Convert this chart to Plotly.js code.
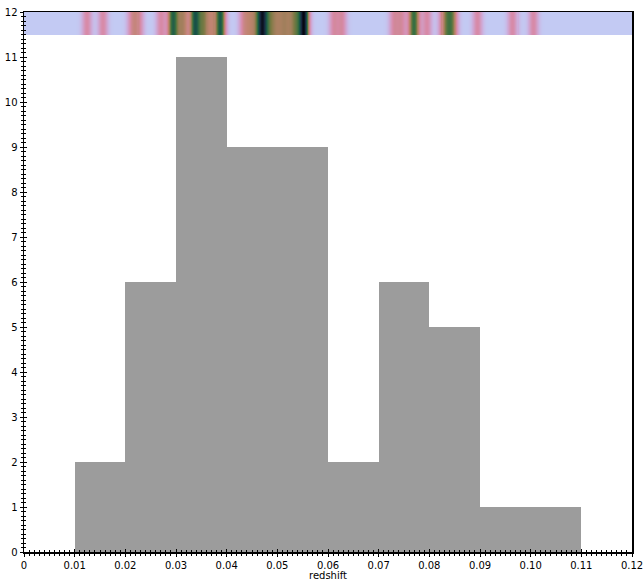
<!DOCTYPE html>
<html>
<head>
<meta charset="utf-8">
<script src="https://cdn.plot.ly/plotly-3.0.1.min.js"></script>
<style>html,body{margin:0;padding:0;background:#fff;}#chart{width:644px;height:581px;}</style>
</head>
<body>
<div id="chart"></div>
<script>
// individual redshift values (read from the strip, consistent with histogram counts)
const redshifts = [
  0.0124, 0.0156,
  0.0214, 0.0226, 0.0270, 0.0290, 0.0294, 0.0298,
  0.0310, 0.0318, 0.0335, 0.0338, 0.0341, 0.0352, 0.0358, 0.0370, 0.0384, 0.0387, 0.0390,
  0.0433, 0.0445, 0.0456, 0.0466, 0.0469, 0.0472, 0.0475, 0.0484, 0.0492,
  0.0502, 0.0512, 0.0521, 0.0532, 0.0538, 0.0549, 0.0551, 0.0553, 0.0555,
  0.0612, 0.0628,
  0.0730, 0.0745, 0.0765, 0.0770, 0.0775, 0.0796,
  0.0828, 0.0835, 0.0842, 0.0848, 0.0895,
  0.0965,
  0.1005
];
const xTickVals = [0, 0.01, 0.02, 0.03, 0.04, 0.05, 0.06, 0.07, 0.08, 0.09, 0.10, 0.11, 0.12];
const xTickText = ['0', '0.01', '0.02', '0.03', '0.04', '0.05', '0.06', '0.07', '0.08', '0.09', '0.10', '0.11', '0.12'];
const yTickVals = [0,1,2,3,4,5,6,7,8,9,10,11,12];
const xTitle = 'redshift';

// density strip built from the data values
const step = 0.0002, sigma = 0.0007;
const edges = [];
for (let x = 0; x <= 0.12 + 1e-9; x += step) edges.push(+x.toFixed(6));
const row = [];
for (let i = 0; i < edges.length - 1; i++) {
  const c = (edges[i] + edges[i+1]) / 2;
  let s = 0;
  redshifts.forEach(v => { const d = (c - v) / sigma; s += Math.exp(-0.5 * d * d); });
  row.push(s);
}
const zmax = 4.3;
const stops = [[0,'#c3caf3'],[0.35,'#cdaedc'],[1.0,'#d78aa8'],[1.5,'#c08470'],[1.8,'#a88060'],[2.1,'#7c7a44'],[2.5,'#3c7040'],[2.9,'#1a5848'],[3.6,'#16263e'],[4.0,'#06060f'],[4.3,'#000000']];
const cs = stops.map(s => [s[0] / zmax, s[1]]);

const font = {family: 'DejaVu Sans, sans-serif', size: 10, color: '#000'};

const traces = [
  {type: 'histogram', x: redshifts, xbins: {start: 0.01, end: 0.11, size: 0.01},
   marker: {color: '#9c9c9c', line: {width: 0}}, hoverinfo: 'skip', showlegend: false},
  {type: 'heatmap', x: edges, y: [11.5, 12], z: [row], zmin: 0, zmax: zmax,
   colorscale: cs, showscale: false, hoverinfo: 'skip', zsmooth: false},
  {type: 'scatter', x: [], y: [], xaxis: 'x2', yaxis: 'y2', showlegend: false, hoverinfo: 'skip'}
];

const axCommon = {showgrid: false, zeroline: false, fixedrange: true};
const layout = {
  width: 644, height: 581,
  margin: {l: 24, r: 12, t: 12, b: 29},
  paper_bgcolor: '#fff', plot_bgcolor: '#fff',
  bargap: 0, font: font, showlegend: false,
  xaxis: Object.assign({}, axCommon, {range: [0, 0.12], tickvals: xTickVals, ticktext: xTickText,
    ticks: 'outside', ticklen: 3, tickwidth: 1, tickcolor: '#000',
    minor: {dtick: 0.001, ticks: 'outside', ticklen: 2, tickwidth: 1, tickcolor: '#000'},
    showline: true, linecolor: '#000', linewidth: 1.5, mirror: true,
    title: {text: xTitle, font: font, standoff: 5}, tickfont: font}),
  yaxis: Object.assign({}, axCommon, {range: [0, 12], tickvals: yTickVals,
    ticks: 'outside', ticklen: 3, tickwidth: 1, tickcolor: '#000',
    minor: {dtick: 0.1, ticks: 'outside', ticklen: 2, tickwidth: 1, tickcolor: '#000'},
    showline: true, linecolor: '#000', linewidth: 1.5, mirror: true, tickfont: font}),
  xaxis2: Object.assign({}, axCommon, {range: [0, 0.12], overlaying: 'x', anchor: 'y2', side: 'bottom',
    tickvals: xTickVals, showticklabels: false, ticks: 'inside', ticklen: 3, tickwidth: 1, tickcolor: '#000',
    minor: {dtick: 0.001, ticks: 'inside', ticklen: 2, tickwidth: 1, tickcolor: '#000'}, showline: false}),
  yaxis2: Object.assign({}, axCommon, {range: [0, 12], overlaying: 'y', anchor: 'x2', side: 'left',
    tickvals: yTickVals, showticklabels: false, ticks: 'inside', ticklen: 3, tickwidth: 1, tickcolor: '#000',
    minor: {dtick: 0.1, ticks: 'inside', ticklen: 2, tickwidth: 1, tickcolor: '#000'}, showline: false})
};

Plotly.newPlot('chart', traces, layout, {staticPlot: true, displayModeBar: false});
</script>
</body>
</html>
